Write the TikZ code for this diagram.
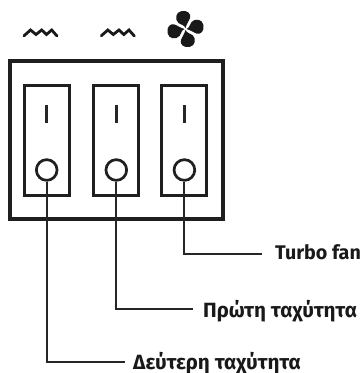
\documentclass[tikz,border=0pt]{standalone}
\usepackage{fontspec}
\setmainfont{Fira Sans}
\tikzset{
 panel/.style={draw=black!88,line width=4pt},
 rocker/.style={draw=black!88,line width=3pt},
 knob/.style={draw=black!88,line width=2.7pt,circle,minimum size=20.7pt,inner sep=0pt},
 lead/.style={draw=black!85,line width=2pt},
 tick/.style={draw=black!85,line width=2.7pt},
 squig/.style={draw=black!90,line width=2.8pt,line join=miter,line cap=round},
 lab/.style={font=\bfseries\fontsize{20.6}{24}\selectfont,anchor=base west,inner sep=0pt,text=black!90},
 blade/.style={fill=black!90,draw=none}
}
\begin{document}
\begin{tikzpicture}[x=1pt,y=-1pt]
\useasboundingbox (0,0) rectangle (362,373);
\fill[white] (0,0) rectangle (362,373);
\node[panel,rectangle,minimum width=212.7pt,minimum height=158pt,inner sep=0pt] (box) at (116.35,139.7) {};
\foreach \n/\x in {a/46.7,b/116.3,c/184.4}{
  \node[rocker,rectangle,minimum width=45pt,minimum height=110pt,inner sep=0pt] (r\n) at (\x,140) {};
  \node[knob] (k\n) at (\x,170) {};
  \coordinate (t\n) at (\x,105);
  \coordinate (u\n) at (\x,123);
  \draw[tick] (t\n) -- (u\n);
}
\node[lab,font=\bfseries\fontsize{19.7}{24}\selectfont] (lc) at (275,259.3) {Turbo fan};
\node[lab] (lb) at (203,317.3) {Πρώτη ταχύτητα};
\node[lab] (la) at (133,369) {Δεύτερη ταχύτητα};
\coordinate (ec) at (262,254);
\coordinate (eb) at (193,309);
\coordinate (ea) at (125,362);
\draw[lead] (kc.south) |- (ec);
\draw[lead] (kb.south) |- (eb);
\draw[lead] (ka.south) |- (ea);
\foreach \d in {0,77.3}{
 \begin{scope}[xshift=\d pt]
 \draw[squig] (24,35.8) -- (30.5,30) -- (36,34.5) -- (41.7,30) -- (46.5,34.5) -- (51.7,30) -- (57,36);
 \end{scope}
}
\begin{scope}[shift={(185.5,29)}]
\foreach \r in {0,90,180,270}{
 \fill[blade,rotate=\r] (0,-1) .. controls (-1,-4) and (-5,-4.5) .. (-7,-6) .. controls (-11,-9.5) and (-10,-17) .. (-4,-18) .. controls (2,-19) and (6,-15) .. (4.5,-11) .. controls (3.5,-8) and (1,-5) .. (0,-1) -- cycle;
}
\end{scope}
\end{tikzpicture}
\end{document}
